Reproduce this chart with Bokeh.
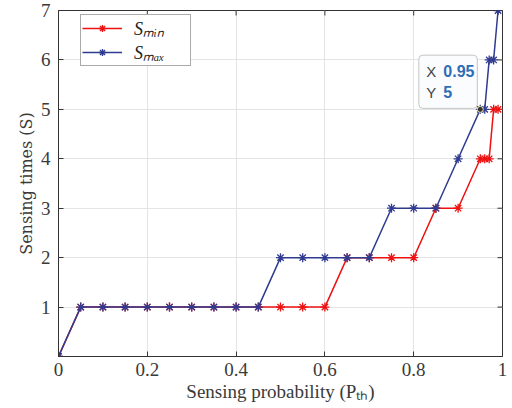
import math
from bokeh.plotting import figure
from bokeh.models import Range1d, FixedTicker, Legend, LegendItem, Label
from bokeh.embed import file_html
from bokeh.resources import INLINE

# ---- data ----
x_pth = [0.0, 0.05, 0.10, 0.15, 0.20, 0.25, 0.30, 0.35, 0.40, 0.45, 0.50, 0.55,
         0.60, 0.65, 0.70, 0.75, 0.80, 0.85, 0.90, 0.95, 0.96, 0.97, 0.98, 0.99]
s_min = [0, 1, 1, 1, 1, 1, 1, 1, 1, 1, 1, 1, 1, 2, 2, 2, 2, 3, 3, 4, 4, 4, 5, 5]
s_max = [0, 1, 1, 1, 1, 1, 1, 1, 1, 1, 2, 2, 2, 2, 2, 3, 3, 3, 4, 5, 5, 6, 6, 7]
series_names = ["S\u2098\u1d62\u2099", "S\u2098\u2090\u2093"]
x_ticks = [0, 0.2, 0.4, 0.6, 0.8, 1]
x_tick_labels = ["0", "0.2", "0.4", "0.6", "0.8", "1"]
y_ticks = [1, 2, 3, 4, 5, 6, 7]
x_lim = (0, 1)
y_lim = (0, 7)
tip_x = 0.95
tip_y = 5
x_label = "Sensing probability (P\u209c\u2095)"
y_label = "Sensing times (S)"

RED = "#ee1111"
BLUE = "#2e3b90"
AX = "#333333"
SERIF = "Liberation Serif"

p = figure(width=512, height=408, x_range=Range1d(*x_lim), y_range=Range1d(*y_lim),
           output_backend="svg", toolbar_location=None,
           min_border_left=58, min_border_right=10, min_border_top=10, min_border_bottom=52)
p.background_fill_color = "white"
p.border_fill_color = "white"
p.outline_line_color = AX
p.outline_line_width = 1

p.xaxis.ticker = FixedTicker(ticks=x_ticks)
p.xaxis.major_label_overrides = {t: l for t, l in zip(x_ticks, x_tick_labels)}
p.yaxis.ticker = FixedTicker(ticks=y_ticks)
for ax in (p.xaxis[0], p.yaxis[0]):
    ax.major_tick_in = 5
    ax.major_tick_out = 0
    ax.minor_tick_line_color = None
    ax.axis_line_color = AX
    ax.major_tick_line_color = AX
    ax.major_label_text_font = SERIF
    ax.major_label_text_font_size = "19px"
    ax.major_label_text_color = "#3a3a3a"
    ax.axis_label_text_font_style = "normal"
    ax.axis_label_text_color = "#3a3a3a"
p.xaxis.axis_label_text_font = SERIF
p.xaxis.axis_label_text_font_size = "19px"
p.yaxis.axis_label_text_font = "DejaVu Serif"
p.yaxis.axis_label_text_font_size = "16px"
p.xaxis.axis_label = x_label
p.yaxis.axis_label = y_label
p.xaxis.major_label_standoff = 6
p.yaxis.major_label_standoff = 8
p.xaxis.axis_label_standoff = 2
p.yaxis.axis_label_standoff = 2

p.xgrid.ticker = FixedTicker(ticks=x_ticks)
p.ygrid.ticker = FixedTicker(ticks=y_ticks)
p.grid.grid_line_color = "#e4e4e4"
p.grid.grid_line_width = 1

# inward ticks on top and right edges (half of each dash is clipped by the frame)
p.scatter(x_ticks, [y_lim[1]] * len(x_ticks), marker="dash", size=10, angle=math.pi / 2,
          line_color=AX, line_width=1)
p.scatter([x_lim[1]] * len(y_ticks), y_ticks, marker="dash", size=10,
          line_color=AX, line_width=1)

# ---- series ----
rl_min = p.line(x_pth, s_min, line_color=RED, line_width=1.5)
rp_min = p.scatter(x_pth, s_min, marker="asterisk", size=9, line_color=RED, line_width=1.3)
rl_max = p.line(x_pth, s_max, line_color=BLUE, line_width=1.5)
rp_max = p.scatter(x_pth, s_max, marker="asterisk", size=9, line_color=BLUE, line_width=1.3)

legend = Legend(items=[LegendItem(label=series_names[0], renderers=[rl_min, rp_min]),
                       LegendItem(label=series_names[1], renderers=[rl_max, rp_max])],
                location=(22, 290), orientation="vertical",
                padding=1, spacing=0, glyph_width=40, glyph_height=18,
                label_standoff=12, label_width=55, label_height=18,
                label_text_font=SERIF, label_text_font_style="italic",
                label_text_font_size="18px", label_text_color="#222222",
                border_line_color="#555555", border_line_width=1,
                background_fill_color="white", background_fill_alpha=1,
                margin=0)
p.add_layout(legend)

# ---- data tip ----
p.scatter([tip_x], [tip_y], marker="circle", size=6, fill_color="#333333",
          line_color="#efe4a8", line_width=1)
TIP_BG = "#fbfcfe"
p.add_layout(Label(x=tip_x, y=tip_y, x_offset=-3, y_offset=1, text="X 0.95\nY 5",
                   text_color=TIP_BG, text_font="Liberation Sans", text_font_size="14px",
                   text_align="right", text_baseline="bottom",
                   background_fill_color=TIP_BG, background_fill_alpha=1,
                   border_line_color="#c4c4c4", border_line_width=1,
                   border_radius=4, padding=9, level="overlay"))
tip_rows = [("X", f"{tip_x:g}", 38), ("Y", f"{tip_y:g}", 17)]
for name, val, dy in tip_rows:
    p.add_layout(Label(x=tip_x, y=tip_y, x_offset=-54, y_offset=dy, text=name,
                       text_font="Liberation Sans", text_font_size="15px", text_color="#444444",
                       text_align="left", text_baseline="alphabetic", level="overlay"))
    p.add_layout(Label(x=tip_x, y=tip_y, x_offset=-37, y_offset=dy, text=val,
                       text_font="Liberation Sans", text_font_size="16px", text_font_style="bold",
                       text_color="#2f6db5", text_align="left", text_baseline="alphabetic",
                       level="overlay"))

open("out.html", "w").write(file_html(p, INLINE))
